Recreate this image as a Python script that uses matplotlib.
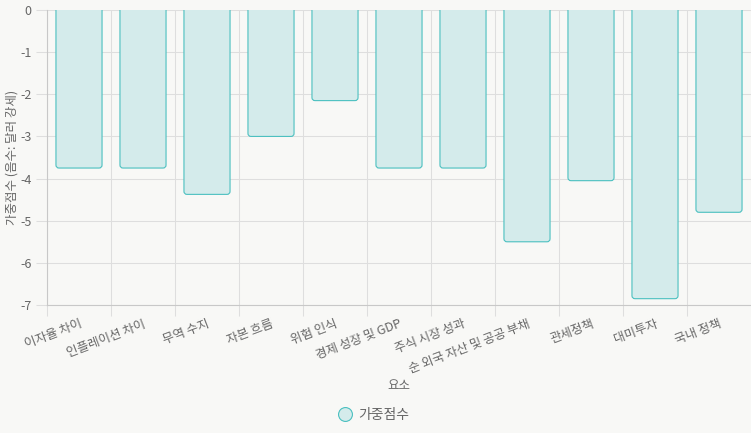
import numpy as np
import matplotlib
matplotlib.use("Agg")
import matplotlib.pyplot as plt
from matplotlib.patches import FancyBboxPatch
from matplotlib.lines import Line2D

plt.rcParams["font.family"] = ["Noto Sans CJK KR", "DejaVu Sans"]

# ---------------- data ----------------
factors = ["이자율 차이", "인플레이션 차이", "무역 수지", "자본 흐름", "위험 인식",
           "경제 성장 및 GDP", "주식 시장 성과", "순 외국 자산 및 공공 부채",
           "관세정책", "대미투자", "국내 정책"]
scores = [-3.75, -3.75, -4.375, -3.0, -2.15, -3.75, -3.75, -5.5, -4.05, -6.85, -4.8]
y_ticks = [0, -1, -2, -3, -4, -5, -6, -7]

bg = "#f8f8f6"
edge = "#4bc0c0"
fill = "#d4ebeb"
txt = "#666666"
grid = "#dedede"

fig = plt.figure(figsize=(7.51, 4.33), dpi=100, facecolor=bg)
ax = fig.add_axes([47/751, 1 - 305/433, 704/751, 295/433], facecolor=bg)

x = np.arange(len(factors))
bars = ax.bar(x, scores, width=0.72, color=fill, edgecolor=edge, linewidth=0.8)

# rounded bottom corners (chart.js style): swap bars for rounded boxes,
# extended above 0 so the top corners get clipped away
px_x, px_y = 64, 295 / 7
r = 3 / px_x
for b in bars:
    bx, bw, bh = b.get_x(), b.get_width(), b.get_height()
    p = FancyBboxPatch((bx, bh), bw, -bh + 0.3,
                       boxstyle=f"round,pad=0,rounding_size={r}",
                       mutation_aspect=px_x / px_y,
                       facecolor=fill, edgecolor=edge, linewidth=0.8, zorder=2)
    b.remove()
    ax.add_patch(p)

ax.set_xlim(-0.5, len(factors) - 0.5)
ax.set_ylim(-7, 0)

ax.set_yticks(y_ticks)
ax.set_yticklabels([str(v) for v in y_ticks])
ax.set_xticks(x)
ax.set_xticklabels(factors, rotation=21, ha="right", va="top", rotation_mode="anchor")
ax.set_xticks(np.arange(-0.5, len(factors), 1), minor=True)

ax.tick_params(axis="x", which="major", length=0, pad=9, labelsize=9, labelcolor=txt)
ax.tick_params(axis="x", which="minor", length=8, color=grid, width=0.75)
ax.tick_params(axis="y", length=8, color=grid, width=0.75, pad=3, labelsize=9, labelcolor=txt)

ax.grid(True, axis="y", color=grid, linewidth=0.75, zorder=0)
ax.grid(True, axis="x", which="minor", color=grid, linewidth=0.75, zorder=0)
ax.set_axisbelow(True)

for s in ["top", "right"]:
    ax.spines[s].set_visible(False)
for s in ["left", "bottom"]:
    ax.spines[s].set_color("#c8c8c8")
    ax.spines[s].set_linewidth(0.8)

fig.text(399/751, 1 - 386/433, "요소", ha="center", va="center", fontsize=9, color=txt)
fig.text(12/751, 1 - 157/433, "가중점수 (음수: 달러 강세)", ha="center", va="center",
         rotation=90, fontsize=9, color=txt)

handle = Line2D([], [], marker="o", linestyle="none", markersize=10,
                markerfacecolor=fill, markeredgecolor=edge, markeredgewidth=0.8)
fig.legend([handle], ["가중점수"], loc="center", bbox_to_anchor=(373/751, 1 - 415/433),
           frameon=False, fontsize=10, labelcolor=txt, handletextpad=0.3,
           handlelength=1.2)

fig.savefig("out.png", dpi=100, facecolor=bg)
